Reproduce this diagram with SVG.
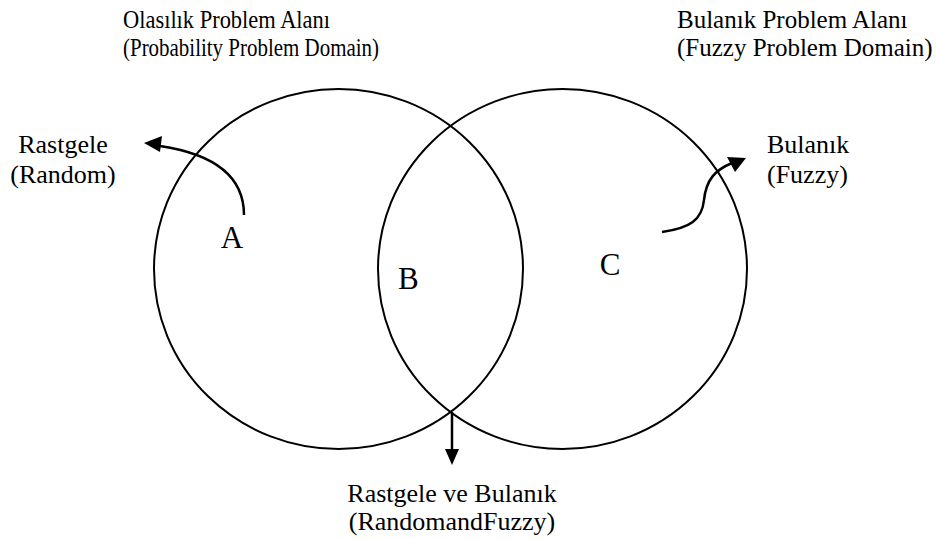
<svg xmlns="http://www.w3.org/2000/svg" width="936" height="539" viewBox="0 0 936 539">
  <style>
    .set { fill: none; stroke: #000; stroke-width: 2; }
    .link { fill: none; stroke: #000; stroke-width: 2.5; }
    .lbl { font-family: "Liberation Serif", "Times New Roman", serif; font-size: 26px; fill: #000; }
    .title { font-family: "Liberation Serif", "Times New Roman", serif; font-size: 25px; fill: #000; }
    .letter { font-family: "Liberation Serif", "Times New Roman", serif; font-size: 31px; fill: #000; }
  </style>

  <!-- domain titles (left block is set condensed) -->
  <g id="title-probability">
    <text class="title" x="123" y="28" textLength="207" lengthAdjust="spacingAndGlyphs">Olasılık Problem Alanı</text>
    <text class="title" x="123" y="56" textLength="256" lengthAdjust="spacingAndGlyphs">(Probability Problem Domain)</text>
  </g>
  <g id="title-fuzzy">
    <text class="title" x="677" y="28">Bulanık Problem Alanı</text>
    <text class="title" x="677" y="56">(Fuzzy Problem Domain)</text>
  </g>

  <!-- the two problem-domain sets -->
  <g id="set-probability">
    <ellipse class="set" cx="338.5" cy="269" rx="184.5" ry="180"/>
  </g>
  <g id="set-fuzzy">
    <ellipse class="set" cx="562.5" cy="269" rx="184.5" ry="180"/>
  </g>

  <!-- region letters -->
  <g id="region-a"><text class="letter" x="232" y="248" text-anchor="middle">A</text></g>
  <g id="region-b"><text class="letter" x="398" y="289">B</text></g>
  <g id="region-c"><text class="letter" x="610" y="275" text-anchor="middle">C</text></g>

  <!-- outcome labels -->
  <g id="label-random">
    <text class="lbl" x="63" y="153" text-anchor="middle">Rastgele</text>
    <text class="lbl" x="63" y="183" text-anchor="middle">(Random)</text>
  </g>
  <g id="label-fuzzy">
    <text class="lbl" x="767" y="153">Bulanık</text>
    <text class="lbl" x="767" y="183">(Fuzzy)</text>
  </g>
  <g id="label-both">
    <text class="lbl" x="452" y="502" text-anchor="middle">Rastgele ve Bulanık</text>
    <text class="lbl" x="452" y="530" text-anchor="middle">(RandomandFuzzy)</text>
  </g>

  <!-- connectors -->
  <g id="connectors">
    <path class="link" d="M244,215 C244,180 220,155 160,146" />
    <path d="M144,143 L162,136 L160,152 Z" fill="#000"/>
    <path class="link" d="M662,232 C690,228 702,220 704,200 C706,180 715,170 732,163" />
    <path d="M746,158 L735,172 L727,157 Z" fill="#000"/>
    <path class="link" d="M452,412 L452,450" stroke-width="3"/>
    <path d="M445,449 L459,449 L452,465 Z" fill="#000"/>
  </g>
</svg>
